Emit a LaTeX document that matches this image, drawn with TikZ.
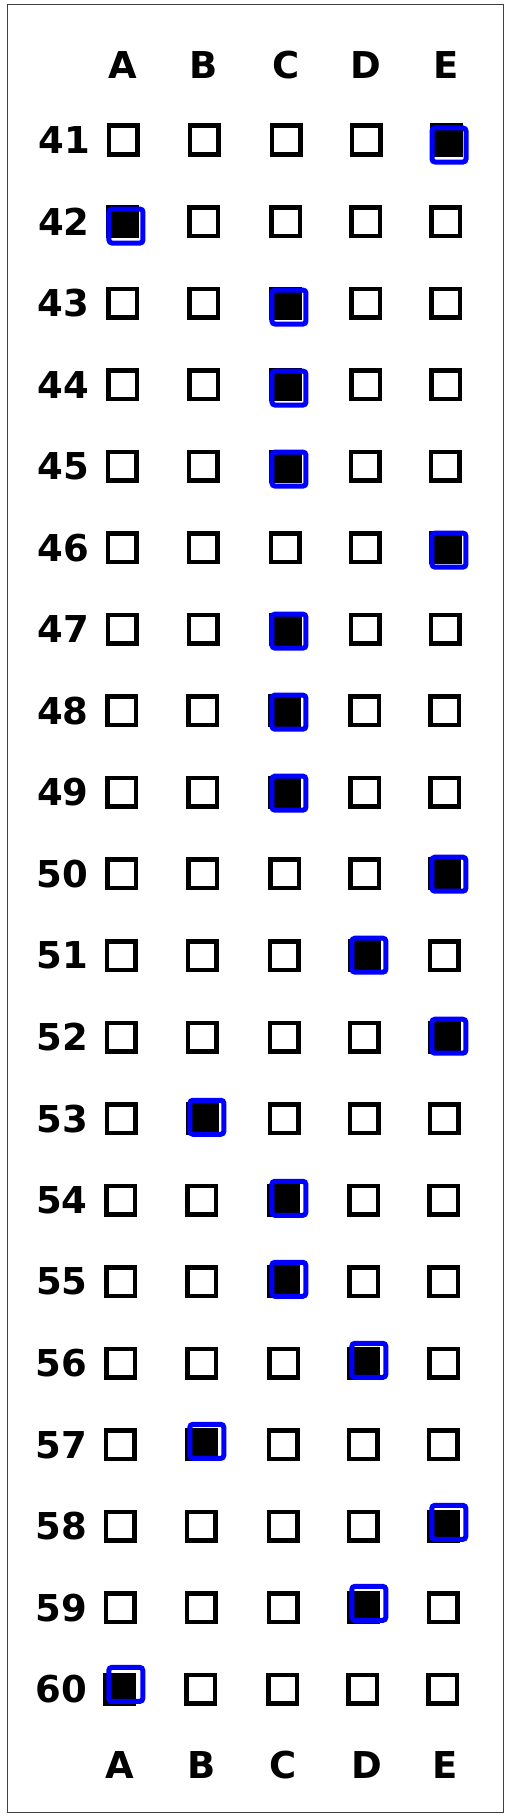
\documentclass[tikz,border=0pt]{standalone}
\usepackage{fontspec}
\setmainfont{DejaVu Sans}
\usepackage{tikz}

\begin{document}
\begin{tikzpicture}[x=1pt,y=-1pt,font=\fontsize{37}{40}\selectfont\bfseries]
        \tikzstyle{bubble}=[draw=black,line width=4.5pt,minimum size=28.5pt,inner sep=0pt]
        \tikzstyle{picked}=[draw=blue,line width=5pt,rounded corners=3pt,minimum size=34pt,inner sep=0pt]
        \tikzstyle{letter}=[inner sep=0pt]
        \useasboundingbox (0,0) rectangle (510,1817);
        \draw[black!75,line width=1pt] (7,5) rectangle (503,1812);
        % column heads
        \foreach \l/\x in {A/123,B/204,C/286,D/366,E/446}
            \node[letter] (top\l) at (\x,65) {\l};
        \foreach \l/\x in {A/120,B/202,C/283,D/367,E/445}
            \node[letter] (bot\l) at (\x,1765) {\l};
        % answer rows
        \foreach \q/\pick [count=\i from 0] in {41/E,42/A,43/C,44/C,45/C,46/E,47/C,48/C,49/C,50/E,
                                               51/D,52/E,53/B,54/C,55/C,56/D,57/B,58/E,59/D,60/A} {
            \pgfmathsetmacro\y{140+\i*81.55}
            \pgfmathsetmacro\s{-0.16*\i}
            \node[letter,anchor=east] (q\q) at (90+\s,\y) {\q};
            \foreach \l/\x in {A/123,B/204,C/286,D/366,E/446}
                \node[bubble] (b\q\l) at (\x+\s,\y) {};
            \fill (b\q\pick.north west) rectangle (b\q\pick.south east);
            \pgfmathsetmacro\dx{3+\i*0.15}
            \pgfmathsetmacro\dy{5-\i*0.53}
            \node[picked,xshift=\dx pt,yshift=-\dy pt] (p\q) at (b\q\pick) {};
        }
\end{tikzpicture}
\end{document}
